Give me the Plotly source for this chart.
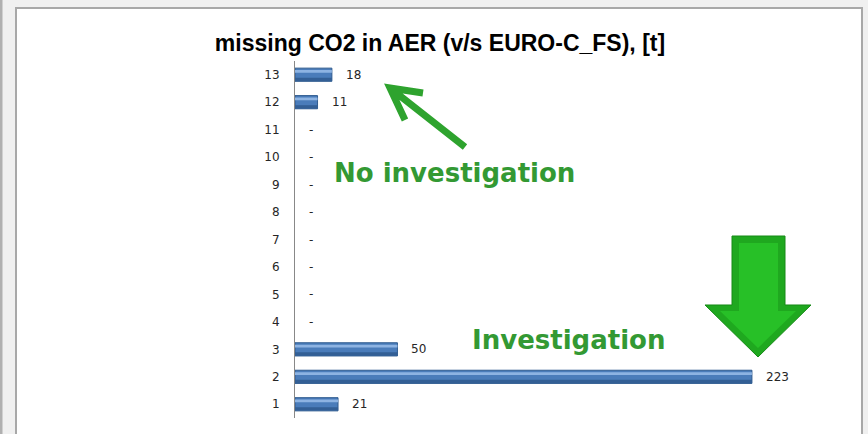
import plotly.graph_objects as go

categories = list(range(1, 14))
values = [21, 223, 50, 0, 0, 0, 0, 0, 0, 0, 0, 11, 18]
labels = [str(v) if v else "-" for v in values]
title_text = "missing CO2 in AER (v/s EURO-C_FS), [t]"
note_top = "No investigation"
note_bottom = "Investigation"

W, H = 868, 434
L, R, T, B = 295, 845, 61, 418   # plot area in pixels
XMAX = (R - L) / 2.049

def px(x):
    return (x - L) / (R - L)

def py(y):
    return (B - y) / (B - T)

def path(points):
    s = ""
    for i, (x, y) in enumerate(points):
        s += ("M" if i == 0 else "L") + f"{px(x):.5f},{py(y):.5f} "
    return s + "Z"

outline = [1 if v > 0 else 0 for v in values]

fig = go.Figure()
# main bar
fig.add_trace(go.Bar(y=categories, x=values, orientation="h", width=0.48, offset=-0.24,
                     marker=dict(color="#4a7cba", line=dict(color="#2f5b8f", width=outline)),
                     hoverinfo="x+y"))
# bottom shading
fig.add_trace(go.Bar(y=categories, x=values, orientation="h", width=0.12, offset=-0.23,
                     marker=dict(color="#335f95", line=dict(width=0)), hoverinfo="skip"))
# top highlight
fig.add_trace(go.Bar(y=categories, x=values, orientation="h", width=0.1, offset=0.07,
                     marker=dict(color="#8db3e2", line=dict(width=0)), hoverinfo="skip"))

annotations = []
for c, v, t in zip(categories, values, labels):
    annotations.append(dict(x=v, y=c, xref="x", yref="y", text=t, showarrow=False,
                            xanchor="left", yanchor="middle", xshift=12,
                            font=dict(family="DejaVu Sans", size=12, color="#262626")))

annotations.append(dict(x=px(454), y=py(173), xref="paper", yref="paper", text=f"<b>{note_top}</b>",
                        showarrow=False, xanchor="center", yanchor="middle",
                        font=dict(family="DejaVu Sans", size=26, color="#339933")))
annotations.append(dict(x=px(568), y=py(340), xref="paper", yref="paper", text=f"<b>{note_bottom}</b>",
                        showarrow=False, xanchor="center", yanchor="middle",
                        font=dict(family="DejaVu Sans", size=26, color="#339933")))

shapes = []
# white panel
shapes.append(dict(type="rect", xref="paper", yref="paper", layer="below",
                   x0=px(16), x1=px(862), y0=py(440), y1=py(8),
                   fillcolor="white", line=dict(color="#a8a8a8", width=2)))
# left strip
shapes.append(dict(type="rect", xref="paper", yref="paper", layer="below",
                   x0=px(0), x1=px(2.5), y0=py(440), y1=py(-5),
                   fillcolor="#b0b0b0", line=dict(width=0)))
# small green arrow (line + chevron)
arrow = f"M{px(465):.5f},{py(147):.5f} L{px(390):.5f},{py(88):.5f} M{px(423):.5f},{py(93):.5f} L{px(390):.5f},{py(88):.5f} L{px(405):.5f},{py(120):.5f}"
shapes.append(dict(type="path", xref="paper", yref="paper", path=arrow,
                   line=dict(color="#2ea32e", width=7)))
# big green down arrow
shapes.append(dict(type="path", xref="paper", yref="paper",
                   path=path([(732, 236), (785, 236), (785, 305), (811, 305), (758, 357), (705, 305), (732, 305)]),
                   fillcolor="#1fa81f", line=dict(color="#178a17", width=1)))
shapes.append(dict(type="path", xref="paper", yref="paper",
                   path=path([(739, 243), (778, 243), (778, 311), (796, 311), (758, 348), (720, 311), (739, 311)]),
                   fillcolor="#27c027", line=dict(width=0)))

fig.update_layout(
    width=W, height=H,
    margin=dict(l=L, r=W - R, t=T, b=H - B, pad=0),
    paper_bgcolor="#f0f0f0", plot_bgcolor="rgba(0,0,0,0)",
    barmode="overlay", showlegend=False,
    title=dict(text=f"<b>{title_text}</b>", x=440 / W, y=1 - 43 / H, xref="container", yref="container",
               xanchor="center", yanchor="middle",
               font=dict(family="Liberation Sans", size=23, color="#000000")),
    xaxis=dict(range=[0, XMAX], visible=False, showgrid=False, zeroline=False),
    yaxis=dict(range=[0.5, 13.5], tickmode="array", tickvals=categories, ticktext=[str(c) for c in categories],
               showgrid=False, zeroline=False, showline=True, linecolor="#888888", linewidth=1,
               ticks="", ticklabelstandoff=12,
               tickfont=dict(family="DejaVu Sans", size=12, color="#262626")),
    annotations=annotations, shapes=shapes,
)

fig.write_html("out.html", config={"displayModeBar": False},
               post_script="document.body.style.margin='0';document.body.style.overflow='hidden';")
